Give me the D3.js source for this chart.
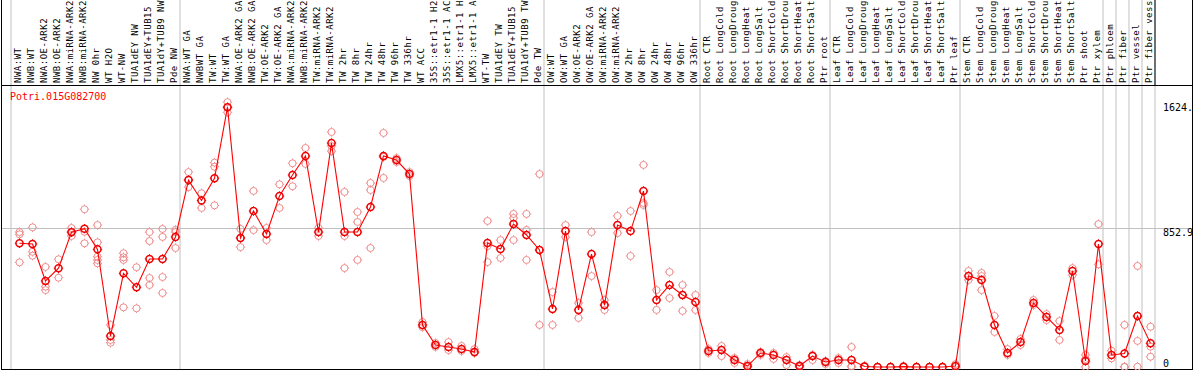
<!DOCTYPE html>
<html><head><meta charset="utf-8">
<script src="https://cdn.jsdelivr.net/npm/d3@7"></script>
<style>html,body{margin:0;padding:0;background:#fff;overflow:hidden}svg{display:block}</style>
</head><body><svg id="c" width="1194" height="370"></svg>
<script>
const geneId = "Potri.015G082700";
const categories = ["NWA:WT","NWB:WT","NWA:OE-ARK2","NWB:OE-ARK2","NWA:miRNA-ARK2","NWB:miRNA-ARK2","NW 0hr","WT H2O","WT-NW","TUA1dEY NW","TUA1dEY+TUB15","TUA1dY+TUB9 NW","Pde NW",
"NWA:WT GA","NWBWT GA","TW:WT","TW:WT GA","NWA:OE-ARK2 GA","NWB:OE-ARK2 GA","TW:OE-ARK2","TW:OE-ARK2 GA","NWA:miRNA-ARK2","NWB:miRNA-ARK2","TW:miRNA-ARK2","TW:miRNA-ARK2","TW 2hr","TW 8hr","TW 24hr","TW 48hr","TW 96hr","TW 336hr","WT ACC","35S::etr1-1 H2","35S::etr1-1 AC","LMX5::etr1-1 H","LMX5::etr1-1 A","WT-TW","TUA1dEY TW","TUA1dEY+TUB15","TUA1dY+TUB9 TW","Pde TW",
"OW:WT","OW:WT GA","OW:OE-ARK2","OW:OE-ARK2 GA","OW:miRNA-ARK2","OW:miRNA-ARK2","OW 2hr","OW 8hr","OW 24hr","OW 48hr","OW 96hr","OW 336hr",
"Root CTR","Root LongCold","Root LongDroug","Root LongHeat","Root LongSalt","Root ShortCold","Root ShortDrou","Root ShortHeat","Root ShortSalt","Ptr root",
"Leaf CTR","Leaf LongCold","Leaf LongDroug","Leaf LongHeat","Leaf LongSalt","Leaf ShortCold","Leaf ShortDrou","Leaf ShortHeat","Leaf ShortSalt","Ptr leaf",
"Stem CTR","Stem LongCold","Stem LongDroug","Stem LongHeat","Stem LongSalt","Stem ShortCold","Stem ShortDrou","Stem ShortHeat","Stem ShortSalt","Ptr shoot","Ptr xylem",
"Ptr phloem","Ptr fiber","Ptr vessel","Ptr fiber vess"];
const means = [759,755,528,606,827,849,722,190,575,489,
 663,663,798,1147,1022,1158,1594,792,957,816,
 1049,1178,1295,828,1374,828,828,982,1295,1270,
 1184,258,135,123,110,92,761,724,877,810,
 718,356,834,350,693,380,871,834,1080,411,
 503,442,399,98,104,43,6,86,74,43,
 6,67,31,43,43,3,0,0,2,0,
 0,0,6,558,534,258,86,153,393,307,
 227,589,37,755,74,83,313,145];
const replicates = [[828,814,642],[857,707,683],[614,493,472],[661,548],[853,830,804],[968,830,759],[871,765,677,657,636],[258,166,149],[698,673,657,366],[612,360],
[828,773,546,503],[847,798,552,454],[841,828,730],[1196,1149,1104],[1066,976],[1254,1229,992],[1625,1594,1563],[847,792,736],[1080,840],[853,779],
[1121,976],[1250,1109],[1344,1246],[853,804],[1442,1356,1325],[1074,804,607],[951,890,657],[1129,1086,730],[1436,1289,1160],[1282,1258],
[1196,1172],[276,245],[147,123],[153,104],[129,98],[110,86],[896,742,644],[779,669],[939,914,779],[939,841,657],
[1184,718,258],[460,258],[871,798],[393,301],[828,558],[411,380,350],[927,822],[957,681],[1240,1006,994],[472,350],
[583,423],[503,442,344],[442,350],[110,86],[129,67],[55,25],[18,0],[92,74],[86,49],[61,12],
[12,0],[74,43],[37,18],[55,25],[123,6,0],[6,0],[0,0],[0,0],[6,0],[0,0],
[0,0],[0,0],[18,0],[589,534],[577,558,472],[313,215],[110,74],[172,135],[411,380],[325,288],
[282,166],[607,565],[74,49,0],[877,630],[100,53],[258,2,0],[620,313,160,2],[247,125,63]];
const groupStarts = [0,13,41,53,63,73,84,85,86,87,88];
const tickValues = [0, 852.9, 1624.6];
const tickLabels = ["0","852.9","1624."];
const gridValues = [852.9];
const yMax = 1705.8;

const FONT = "'DejaVu Sans Mono', monospace";
const svg = d3.select("#c");
const x = d3.scaleLinear().domain([0, categories.length - 1]).range([19.5, 1150.5]);
const y = d3.scaleLinear().domain([0, yMax]).range([367, 89]);

// group separators
svg.append("g").selectAll("line").data(groupStarts).join("line")
  .attr("x1", d => x(d) - 8.5).attr("x2", d => x(d) - 8.5)
  .attr("y1", 0).attr("y2", 369).attr("stroke", "#c0c0c0").attr("stroke-width", 1);
// horizontal grid
svg.append("g").selectAll("line").data(gridValues).join("line")
  .attr("x1", 1).attr("x2", 1193).attr("y1", d => Math.round(y(d)) + 0.5).attr("y2", d => Math.round(y(d)) + 0.5)
  .attr("stroke", "#c0c0c0");
// frame
const fr = svg.append("g").attr("stroke", "#000").attr("stroke-width", 1).attr("fill", "none");
fr.append("line").attr("x1", 1.5).attr("x2", 1.5).attr("y1", 0).attr("y2", 370);
fr.append("line").attr("x1", 1192.5).attr("x2", 1192.5).attr("y1", 0).attr("y2", 370);
fr.append("line").attr("x1", 1).attr("x2", 1193).attr("y1", 85.5).attr("y2", 85.5);
fr.append("line").attr("x1", 1).attr("x2", 1193).attr("y1", 369.5).attr("y2", 369.5);
fr.append("line").attr("x1", x(categories.length) - 8.5).attr("x2", x(categories.length) - 8.5).attr("y1", 0).attr("y2", 85);

// category labels
svg.append("g").selectAll("text").data(categories).join("text")
  .attr("transform", (d, i) => `translate(${x(i) + 1},83) rotate(-90)`)
  .attr("font-family", FONT).attr("font-size", 9).attr("letter-spacing", 0.5).attr("fill", "#000")
  .text(d => d);

// title
svg.append("text").attr("x", 10).attr("y", 100).attr("font-family", FONT).attr("font-size", 10)
  .attr("fill", "#ff0000").text(geneId);

// right axis
const ax = svg.append("g").attr("transform", "translate(1163,0)")
  .call(d3.axisRight(y).tickValues(tickValues).tickFormat((d, i) => tickLabels[i]).tickSize(0).tickPadding(0));
ax.select(".domain").remove();
ax.selectAll("text").attr("font-family", FONT).attr("font-size", 10).attr("fill", "#000")
  .attr("dy", d => d === 0 ? "-0.1em" : "0.78em");

function stubs(cx, cy, r, L) {
  return `M${cx - r - L},${cy}h${L}M${cx + r},${cy}h${L}M${cx},${cy - r - L}v${L}M${cx},${cy + r}v${L}`;
}

// replicates
const reps = [];
replicates.forEach((arr, i) => arr.forEach(v => reps.push({i, v})));
const gr = svg.append("g");
gr.selectAll("circle").data(reps).join("circle")
  .attr("cx", d => x(d.i)).attr("cy", d => y(d.v)).attr("r", 3.5)
  .attr("fill", "none").attr("stroke", "#ef8f8f").attr("stroke-width", 1);
gr.selectAll("path").data(reps).join("path")
  .attr("d", d => stubs(x(d.i), y(d.v), 3.5, 1.2)).attr("stroke", "#ef8f8f").attr("stroke-width", 1);

// mean line
svg.append("path").datum(means)
  .attr("d", d3.line().x((d, i) => x(i)).y(d => y(d)))
  .attr("fill", "none").attr("stroke", "#ff0000").attr("stroke-width", 1.1);

// mean points
const gm = svg.append("g");
gm.selectAll("circle").data(means).join("circle")
  .attr("cx", (d, i) => x(i)).attr("cy", d => y(d)).attr("r", 3.5)
  .attr("fill", "none").attr("stroke", "#ee0000").attr("stroke-width", 1.5);
gm.selectAll("path").data(means).join("path")
  .attr("d", (d, i) => stubs(x(i), y(d), 3.5, 1.2)).attr("stroke", "#ee0000").attr("stroke-width", 1);
</script>
</body></html>
